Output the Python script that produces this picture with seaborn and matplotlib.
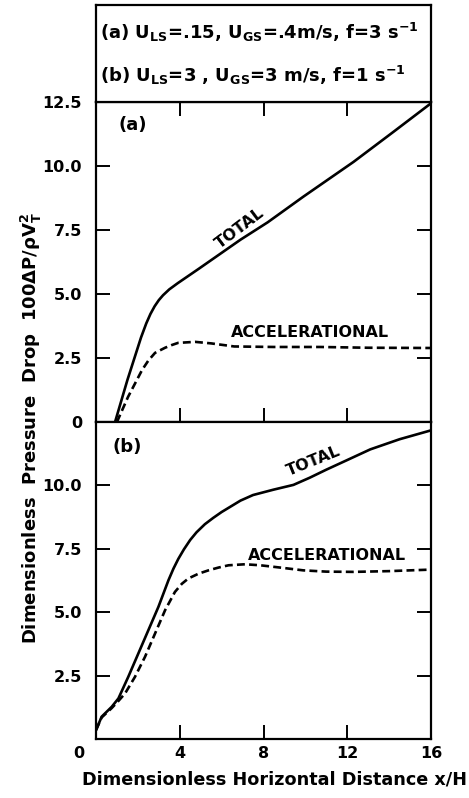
import matplotlib
matplotlib.use("Agg")
import matplotlib.pyplot as plt
from matplotlib.transforms import ScaledTranslation
import seaborn as sns
import pandas as pd

# Panel (a): U_LS=.15, U_GS=.4 m/s, f=3 1/s
xa_total = [0.91, 1.5, 2.15, 2.4, 2.6, 2.8, 3.0, 3.2, 3.5, 3.9, 4.4, 4.9, 5.9, 6.9, 8.2, 9.9,
            12.3, 14.2, 16.0]
ya_total = [0.0, 1.64, 3.3, 3.85, 4.22, 4.52, 4.76, 4.95, 5.18, 5.42, 5.7, 5.98, 6.55, 7.12,
            7.8, 8.8, 10.16, 11.33, 12.45]
xa_accel = [1.0, 1.53, 2.2, 2.5, 2.82, 3.3, 3.6, 3.92, 4.73, 5.5, 6.6, 8.5, 10.7, 13.0, 16.0]
ya_accel = [0.0, 0.98, 2.03, 2.4, 2.7, 2.9, 3.0, 3.09, 3.13, 3.07, 2.95, 2.93, 2.93, 2.9, 2.89]

# Panel (b): U_LS=3, U_GS=3 m/s, f=1 1/s
xb_total = [0.0, 0.27, 0.75, 1.07, 1.54, 2.02, 2.5, 2.98, 3.46, 3.7, 3.93, 4.2, 4.5, 4.8, 5.2,
            5.6, 6.0, 6.5, 6.9, 7.5, 8.47, 9.43, 10.2, 11.0, 12.0, 13.1, 14.5, 16.0]
yb_total = [0.35, 0.88, 1.27, 1.6, 2.45, 3.37, 4.29, 5.21, 6.26, 6.72, 7.1, 7.48, 7.85, 8.15,
            8.47, 8.72, 8.95, 9.2, 9.4, 9.62, 9.83, 10.02, 10.3, 10.62, 11.0, 11.42, 11.82,
            12.17]
xb_accel = [0.0, 0.27, 0.75, 1.07, 1.39, 1.86, 2.34, 2.82, 3.3, 3.77, 4.1, 4.41, 4.9, 5.37,
            5.85, 6.33, 7.12, 7.85, 8.9, 9.9, 11.0, 12.3, 14.0, 16.0]
yb_accel = [0.35, 0.85, 1.22, 1.5, 1.8, 2.45, 3.24, 4.16, 5.08, 5.8, 6.12, 6.33, 6.52, 6.65,
            6.76, 6.85, 6.89, 6.85, 6.75, 6.65, 6.6, 6.59, 6.62, 6.68]

x_ticks = [0, 4, 8, 12, 16]
x_tick_labels = ["0", "4", "8", "12", "16"]
ya_ticks = [0, 2.5, 5.0, 7.5, 10.0, 12.5]
ya_tick_labels = ["0", "2.5", "5.0", "7.5", "10.0", "12.5"]
yb_ticks = [2.5, 5.0, 7.5, 10.0]
yb_tick_labels = ["2.5", "5.0", "7.5", "10.0"]

conditions = [
    r"(a) U$_{LS}$=.15, U$_{GS}$=.4m/s, f=3 s$^{-1}$",
    r"(b) U$_{LS}$=3 , U$_{GS}$=3 m/s, f=1 s$^{-1}$",
]

sns.set_theme(style="ticks")
plt.rcParams["font.family"] = ["DejaVu Sans"]
plt.rcParams["font.weight"] = "bold"
plt.rcParams["mathtext.fontset"] = "dejavusans"
plt.rcParams["mathtext.default"] = "bf"
for key in ("text.color", "axes.labelcolor", "xtick.color", "ytick.color", "axes.edgecolor"):
    plt.rcParams[key] = "black"

fig = plt.figure(figsize=(4.69, 7.98), dpi=100)
left, width = 0.2047, 0.7143
ax_a = fig.add_axes([left, 0.4712, width, 0.4010])
ax_b = fig.add_axes([left, 0.0739, width, 0.3973])
ax_box = fig.add_axes([left, 0.8722, width, 0.1215])

def frame(xs, ys):
    return pd.DataFrame({"x": xs, "y": ys})

line_kw = dict(color="black", linewidth=1.9, legend=False, sort=False, estimator=None)
sns.lineplot(data=frame(xa_total, ya_total), x="x", y="y", ax=ax_a, **line_kw)
sns.lineplot(data=frame(xa_accel, ya_accel), x="x", y="y", ax=ax_a, **line_kw)
ax_a.lines[-1].set_dashes([3.0, 1.6])
sns.lineplot(data=frame(xb_total, yb_total), x="x", y="y", ax=ax_b, **line_kw)
sns.lineplot(data=frame(xb_accel, yb_accel), x="x", y="y", ax=ax_b, **line_kw)
ax_b.lines[-1].set_dashes([3.0, 1.6])

for ax in (ax_a, ax_b):
    ax.set_xlim(0, 16)
    ax.set_ylim(0, 12.5)
    ax.set_xlabel("")
    ax.set_ylabel("")
    for s in ax.spines.values():
        s.set_visible(True)
        s.set_linewidth(1.6)
        s.set_color("black")
    ax.set_xticks(x_ticks)
    ax.tick_params(axis="both", direction="in", length=10, width=1.4, colors="black",
                   labelcolor="black", labelsize=11.5, right=True)

ax_a.set_yticks(ya_ticks)
ax_a.set_yticklabels(ya_tick_labels, fontweight="bold")
ax_a.tick_params(axis="x", top=True, labelbottom=False)
ax_a.tick_params(axis="y", pad=10)
ax_b.set_yticks(yb_ticks)
ax_b.set_yticklabels(yb_tick_labels, fontweight="bold")
ax_b.set_xticklabels(x_tick_labels, fontweight="bold")
ax_b.tick_params(axis="x", top=False, pad=5)
ax_b.tick_params(axis="y", pad=10)
zero_lbl = ax_b.get_xticklabels()[0]
zero_lbl.set_transform(zero_lbl.get_transform() + ScaledTranslation(-0.17, 0, fig.dpi_scale_trans))

# panel tags and curve names
ax_a.text(0.11, 0.928, "(a)", transform=ax_a.transAxes, ha="center", va="center",
          fontsize=13, fontweight="bold")
ax_b.text(0.093, 0.921, "(b)", transform=ax_b.transAxes, ha="center", va="center",
          fontsize=13, fontweight="bold")
ax_a.text(6.85, 7.55, "TOTAL", rotation=37, ha="center", va="center", fontsize=11.5,
          fontweight="bold", rotation_mode="anchor")
ax_a.text(10.2, 3.48, "ACCELERATIONAL", ha="center", va="center", fontsize=11.5,
          fontweight="bold")
ax_b.text(10.4, 10.95, "TOTAL", rotation=22, ha="center", va="center", fontsize=11.5,
          fontweight="bold", rotation_mode="anchor")
ax_b.text(11.05, 7.24, "ACCELERATIONAL", ha="center", va="center", fontsize=11.5,
          fontweight="bold")

# condition box above the plots
ax_box.set_xticks([])
ax_box.set_yticks([])
for s in ax_box.spines.values():
    s.set_visible(True)
    s.set_linewidth(1.6)
    s.set_color("black")
ax_box.text(0.012, 0.72, conditions[0], transform=ax_box.transAxes, ha="left", va="center",
            fontsize=13, fontweight="bold")
ax_box.text(0.012, 0.27, conditions[1], transform=ax_box.transAxes, ha="left", va="center",
            fontsize=13, fontweight="bold")

fig.text(0.066, 0.4637, r"Dimensionless  Pressure  Drop  100$\Delta$P/$\rho$V$_T^2$",
         rotation=90, ha="center", va="center", fontsize=13, fontweight="bold")
fig.text(0.586, 0.0226, "Dimensionless Horizontal Distance x/H", ha="center", va="center",
         fontsize=12.7, fontweight="bold")

fig.savefig("out.png", dpi=100)
